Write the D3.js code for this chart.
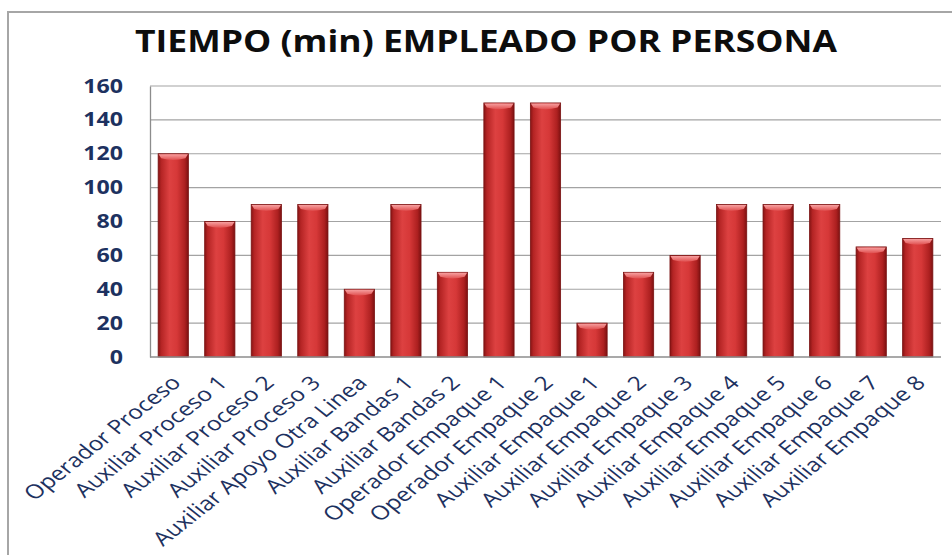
<!DOCTYPE html>
<html>
<head>
<meta charset="utf-8">
<script src="https://cdn.jsdelivr.net/npm/d3@7"></script>
<style>
  html, body { margin: 0; padding: 0; background: #fff; }
  svg { display: block; }
</style>
</head>
<body>
<script>
'use strict'

const categories = [
  'Operador Proceso', 'Auxiliar Proceso 1', 'Auxiliar Proceso 2', 'Auxiliar Proceso 3',
  'Auxiliar Apoyo Otra Linea', 'Auxiliar Bandas 1', 'Auxiliar Bandas 2',
  'Operador Empaque 1', 'Operador Empaque 2', 'Auxiliar Empaque 1', 'Auxiliar Empaque 2',
  'Auxiliar Empaque 3', 'Auxiliar Empaque 4', 'Auxiliar Empaque 5', 'Auxiliar Empaque 6',
  'Auxiliar Empaque 7', 'Auxiliar Empaque 8'
]
const minutes = [120, 80, 90, 90, 40, 90, 50, 150, 150, 20, 50, 60, 90, 90, 90, 65, 70]
const yTicks = [0, 20, 40, 60, 80, 100, 120, 140, 160]
const title = 'TIEMPO (min) EMPLEADO POR PERSONA'

window.onload = function () {

  const width = 952, height = 555,
        plot = {left: 150, right: 941, top: 86, bottom: 357},
        stretch = 1.26,
        navy = '#1d3160'

  const svg = d3.select('body').append('svg')
    .attr('width', width)
    .attr('height', height)

  // frame of the chart area (runs off the picture at right and bottom)
  svg.append('rect')
    .attr('x', 8).attr('y', 12)
    .attr('width', width + 20).attr('height', height + 20)
    .attr('fill', 'none')
    .attr('stroke', '#a6a6a6')
    .attr('stroke-width', 2)

  const defs = svg.append('defs')
  const body = defs.append('linearGradient')
    .attr('id', 'barBody')
    .attr('x1', '0%').attr('x2', '100%').attr('y1', '0%').attr('y2', '0%')
  ;[['0%', '#861414'], ['10%', '#b42424'], ['38%', '#dd4141'], ['62%', '#d63838'],
    ['88%', '#ad2020'], ['100%', '#7c1111']]
    .forEach(s => body.append('stop').attr('offset', s[0]).attr('stop-color', s[1]))

  const cap = defs.append('linearGradient')
    .attr('id', 'barCap')
    .attr('x1', '0%').attr('x2', '0%').attr('y1', '0%').attr('y2', '100%')
  ;[['0%', '#f7a0a0'], ['100%', '#e05050']]
    .forEach(s => cap.append('stop').attr('offset', s[0]).attr('stop-color', s[1]))

  const x = d3.scaleBand()
    .domain(categories)
    .range([plot.left, plot.right])
    .paddingInner(0.35)
    .paddingOuter(0.175)

  const y = d3.scaleLinear()
    .domain([0, 160])
    .range([plot.bottom, plot.top])

  // gridlines
  svg.append('g')
    .attr('class', 'grid')
    .selectAll('line')
    .data(yTicks.slice(1))
    .enter()
    .append('line')
    .attr('x1', plot.left).attr('x2', plot.right)
    .attr('y1', d => y(d)).attr('y2', d => y(d))
    .attr('stroke', '#a3a3a3')
    .attr('stroke-width', 1.2)

  // y axis
  const yAxis = svg.append('g')
    .attr('transform', 'translate(' + [plot.left, 0] + ')')
    .call(d3.axisLeft(y).tickValues(yTicks).tickSize(0).tickPadding(27))

  yAxis.select('.domain').attr('stroke', '#8c8c8c').attr('stroke-width', 1.3)
  yAxis.selectAll('text')
    .attr('x', 0)
    .attr('transform', 'translate(-27,0) scale(1.22,1)')
    .attr('fill', navy)
    .style('font-family', '"Open Sans", sans-serif')
    .style('font-weight', 'bold')
    .style('font-size', '19px')

  // bars
  const bars = svg.append('g')
    .attr('class', 'bars')
    .selectAll('g')
    .data(minutes)
    .enter()
    .append('g')

  bars.append('rect')
    .attr('x', (d, i) => x(categories[i]))
    .attr('y', d => y(d))
    .attr('width', x.bandwidth())
    .attr('height', d => y(0) - y(d))
    .attr('fill', 'url(#barBody)')
    .attr('stroke', '#7a1313')
    .attr('stroke-width', 0.8)

  bars.append('path')
    .attr('d', (d, i) => {
      const x0 = x(categories[i]), w = x.bandwidth(), y0 = y(d)
      return 'M' + [x0 + 0.5, y0 + 0.5] + 'L' + [x0 + w - 0.5, y0 + 0.5] +
        'L' + [x0 + w - 3, y0 + 4.5] + 'Q' + [x0 + w / 2, y0 + 8] + ' ' + [x0 + 3, y0 + 4.5] + 'Z'
    })
    .attr('fill', 'url(#barCap)')

  // x axis line
  svg.append('line')
    .attr('x1', plot.left).attr('x2', plot.right)
    .attr('y1', plot.bottom).attr('y2', plot.bottom)
    .attr('stroke', '#8c8c8c')
    .attr('stroke-width', 1.3)

  // category labels, slanted
  svg.append('g')
    .attr('class', 'xlabels')
    .selectAll('text')
    .data(categories)
    .enter()
    .append('text')
    .attr('transform', d => 'translate(' + [x(d) + x.bandwidth() / 2 + 9, plot.bottom + 27] +
      ') scale(' + stretch + ',1) rotate(-45)')
    .attr('text-anchor', 'end')
    .attr('fill', navy)
    .style('font-family', '"Open Sans", sans-serif')
    .style('font-size', '19.5px')
    .text(d => d)

  svg.append('text')
    .attr('x', 486)
    .attr('y', 52)
    .attr('text-anchor', 'middle')
    .attr('textLength', 702)
    .attr('lengthAdjust', 'spacingAndGlyphs')
    .attr('fill', '#0d0d0d')
    .style('font-family', '"Open Sans", sans-serif')
    .style('font-weight', 'bold')
    .style('font-size', '31px')
    .text(title)
}
</script>
</body>
</html>
